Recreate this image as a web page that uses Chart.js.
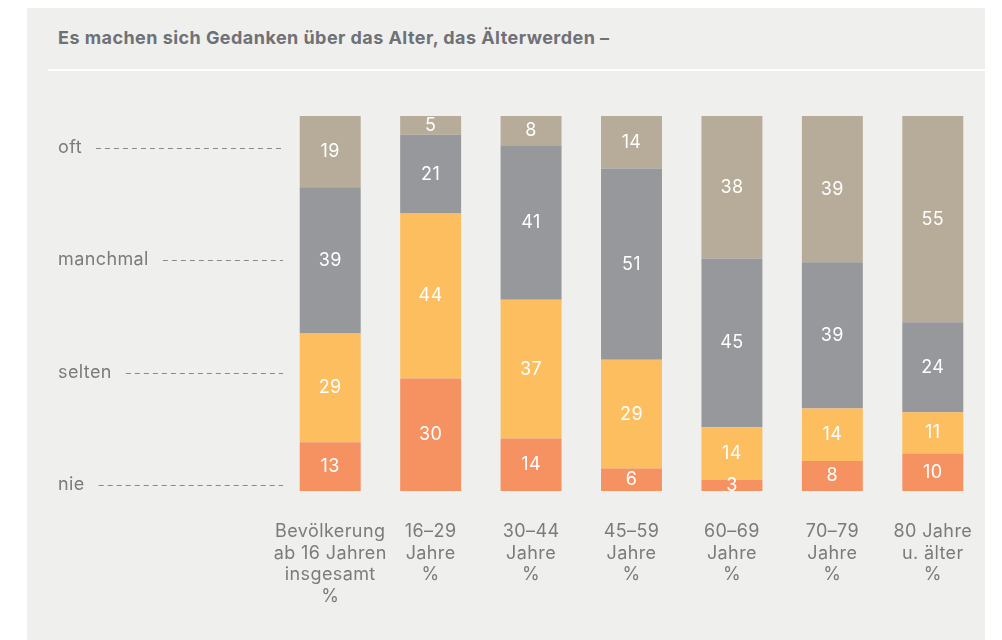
<!DOCTYPE html>
<html>
<head>
<meta charset="utf-8">
<script src="https://cdn.jsdelivr.net/npm/chart.js@4"></script>
<style>
    body { margin: 0; background: #fff; width: 1002px; height: 640px; overflow: hidden; position: relative; font-family: Inter, sans-serif; }
    #panel { position: absolute; left: 27px; top: 8px; width: 958px; height: 632px; background: #efefee; }
    #title { position: absolute; left: 58px; top: 27px; font-size: 18px; line-height: 22px; letter-spacing: 0.45px; font-weight: bold; color: #707176; white-space: nowrap; }
    #rule { position: absolute; left: 48px; top: 69px; width: 937px; height: 2px; background: #fff; }
    #wrap { position: absolute; left: 0; top: 0; width: 1002px; height: 640px; }
</style>
</head>
<body>
<div id="panel"></div>
<div id="title">Es machen sich Gedanken über das Alter, das Älterwerden –</div>
<div id="rule"></div>
<div id="wrap"><canvas id="chart" width="1002" height="640"></canvas></div>
<script>
const categories = [
    ['Bevölkerung', 'ab 16 Jahren', 'insgesamt', '%'],
    ['16–29', 'Jahre', '%'],
    ['30–44', 'Jahre', '%'],
    ['45–59', 'Jahre', '%'],
    ['60–69', 'Jahre', '%'],
    ['70–79', 'Jahre', '%'],
    ['80 Jahre', 'u. älter', '%']
];
const nie = [13, 30, 14, 6, 3, 8, 10];
const selten = [29, 44, 37, 29, 14, 14, 11];
const manchmal = [39, 21, 41, 51, 45, 39, 24];
const oft = [19, 5, 8, 14, 38, 39, 55];

const levelLabels = ['nie', 'selten', 'manchmal', 'oft'];
const levelValues = [1.6, 31.6, 61.6, 91.5];

const FONT = 'Inter, sans-serif';
const SIZE = 18;
const SPACING = '0.4px';

// wider letter spacing for all canvas text (set outside any save/restore)
const spacingPlugin = {
    id: 'spacing',
    beforeDraw(chart) { chart.ctx.letterSpacing = SPACING; }
};

// Ratings on the left with dashed leader lines
const levelPlugin = {
    id: 'levels',
    afterDraw(chart) {
        const ctx = chart.ctx;
        const y = chart.scales.y;
        ctx.save();
        ctx.font = SIZE + 'px ' + FONT;
        ctx.fillStyle = '#7b7b7b';
        ctx.textBaseline = 'middle';
        ctx.textAlign = 'left';
        levelLabels.forEach((lab, i) => {
            const py = y.getPixelForValue(levelValues[i]);
            ctx.fillText(lab, 58, py);
            const w = ctx.measureText(lab).width;
            ctx.beginPath();
            ctx.setLineDash([5, 4]);
            ctx.strokeStyle = '#8a8a8a';
            ctx.lineWidth = 1;
            ctx.moveTo(58 + w + 14, Math.round(py) + 0.5);
            ctx.lineTo(283, Math.round(py) + 0.5);
            ctx.stroke();
        });
        ctx.restore();
    }
};

// White values inside the segments
const valuePlugin = {
    id: 'values',
    afterDatasetsDraw(chart) {
        const ctx = chart.ctx;
        ctx.save();
        ctx.font = SIZE + 'px ' + FONT;
        ctx.fillStyle = '#fff';
        ctx.textAlign = 'center';
        ctx.textBaseline = 'middle';
        chart.data.datasets.forEach((ds, di) => {
            chart.getDatasetMeta(di).data.forEach((bar, i) => {
                const cy = (bar.y + bar.base) / 2;
                ctx.fillText(ds.data[i], bar.x, cy);
            });
        });
        ctx.restore();
    }
};

new Chart(document.getElementById('chart'), {
    type: 'bar',
    data: {
        labels: categories,
        datasets: [
            { label: 'nie', data: nie, backgroundColor: '#f69262' },
            { label: 'selten', data: selten, backgroundColor: '#fdbe5f' },
            { label: 'manchmal', data: manchmal, backgroundColor: '#97989c' },
            { label: 'oft', data: oft, backgroundColor: '#b7ab99' }
        ]
    },
    options: {
        responsive: false,
        animation: false,
        layout: { padding: { left: 280, right: 19, top: 116, bottom: 0 } },
        datasets: { bar: { barPercentage: 0.607, categoryPercentage: 1, borderWidth: 0 } },
        plugins: {
            legend: { display: false },
            tooltip: { enabled: false }
        },
        scales: {
            x: {
                stacked: true,
                grid: { display: false, drawTicks: false },
                border: { display: false },
                ticks: {
                    color: '#7b7b7b',
                    padding: 30,
                    maxRotation: 0,
                    autoSkip: false,
                    font: { family: FONT, size: SIZE, lineHeight: 1.2 }
                },
                afterFit(scale) { scale.height = 149; }
            },
            y: {
                stacked: true,
                display: false,
                min: 0,
                max: 100
            }
        }
    },
    plugins: [spacingPlugin, levelPlugin, valuePlugin]
});
</script>
</body>
</html>
